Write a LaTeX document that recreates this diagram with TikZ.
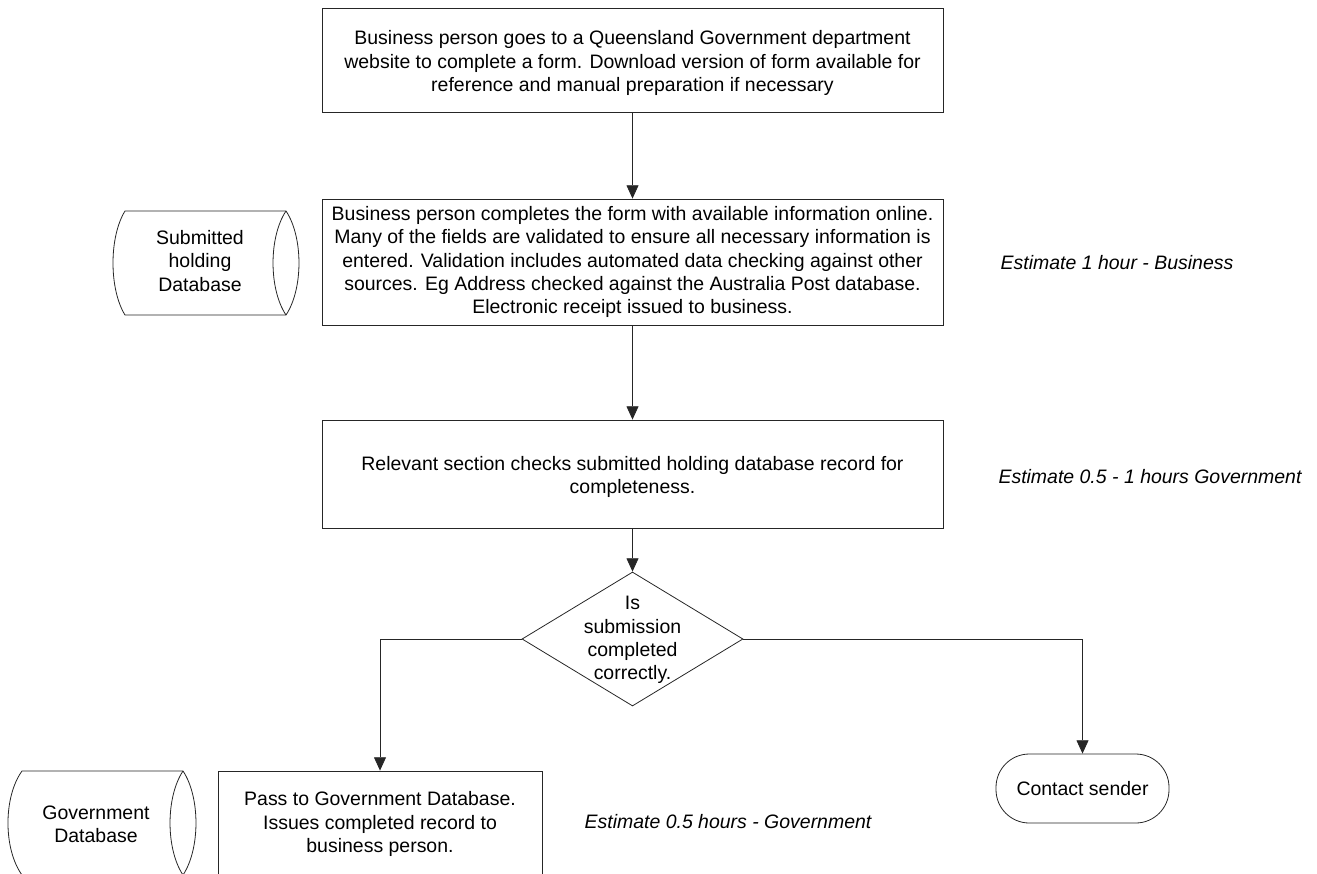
\documentclass[tikz,border=0pt]{standalone}
\usepackage{fontspec}
\setmainfont{Liberation Sans}
\usetikzlibrary{shapes.geometric,arrows.meta}
\begin{document}
\begin{tikzpicture}[x=0.75pt,y=-0.75pt,
  every node/.style={font=\fontsize{14.6}{17.4}\selectfont, align=center},
  ln/.style={line width=0.6pt, draw=black!85},
  box/.style={ln, draw, rectangle, inner sep=0pt},
  arr/.style={ln, -{Triangle[length=10pt,width=9pt]}},
  est/.style={font=\fontsize{14.6}{17.4}\selectfont\itshape}]
\useasboundingbox (0,0) rectangle (1317,874);

% process boxes
\node[box, minimum width=465.75pt, minimum height=78pt] (b1) at (632.5,60) {};
\node (b1t) at (632.5,63)
 {Business person goes to a Queensland Government department\\website to complete a form. Download version of form available for\\reference and manual preparation if necessary};
\node[box, minimum width=465.75pt, minimum height=94.5pt] (b2) at (632.5,262) {};
\node (b2t) at (632.5,262)
 {Business person completes the form with available information online.\\Many of the fields are validated to ensure all necessary information is\\entered. Validation includes automated data checking against other\\sources. Eg Address checked against the Australia Post database.\\Electronic receipt issued to business.};
\node[box, minimum width=465.75pt, minimum height=81pt] (b3) at (632.5,474) {};
\node (b3t) at (632.5,477)
 {Relevant section checks submitted holding database record for\\completeness.};
\node[ln, draw, diamond, minimum width=165.75pt, minimum height=100.5pt, inner sep=0pt] (dia) at (632.5,639) {};
\node (diat) at (632.5,640) {Is\\submission\\completed\\correctly.};
\node[box, minimum width=243pt, minimum height=79.5pt] (b4) at (380,824) {};
\node (b4t) at (380,824)
 {Pass to Government Database.\\Issues completed record to\\business person.};
\node[ln, draw, rectangle, rounded corners=25pt, minimum width=129.75pt, minimum height=51.75pt] (cs) at (1082.5,788.5) {Contact sender};

% database shapes
\draw[ln] (125,211) -- (286,211)
  .. controls (303.3,237) and (303.3,289) .. (286,315) -- (125,315)
  .. controls (109,289) and (109,237) .. (125,211) -- cycle;
\draw[ln] (286,211) .. controls (268.7,237) and (268.7,289) .. (286,315);
\node (sdb) at (200,261) {Submitted\\holding\\Database};

\draw[ln] (22,771) -- (183,771)
  .. controls (200.3,797) and (200.3,849) .. (183,875) -- (22,875)
  .. controls (3.3,849) and (3.3,797) .. (22,771) -- cycle;
\draw[ln] (183,771) .. controls (165.7,797) and (165.7,849) .. (183,875);
\node (gdb) at (96,824) {Government\\Database};

% estimates
\node[est] (e1) at (1117,263) {Estimate 1 hour - Business};
\node[est] (e2) at (1150,477) {Estimate 0.5 - 1 hours Government};
\node[est] (e3) at (728,822) {Estimate 0.5 hours - Government};

% connectors
\draw[arr] (b1.south) -- (b2.north);
\draw[arr] (b2.south) -- (b3.north);
\draw[arr] (b3.south) -- (dia.north);
\draw[arr] (dia.west) -| (b4.north);
\draw[arr] (dia.east) -| (cs.north);
\end{tikzpicture}
\end{document}
